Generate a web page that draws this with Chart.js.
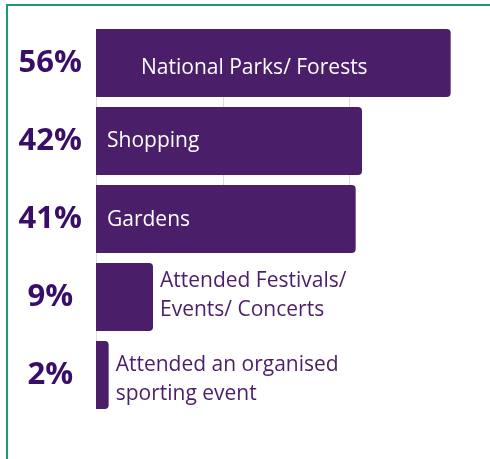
<!DOCTYPE html>
<html>
<head>
<title>Activities</title>
<script src="https://cdn.jsdelivr.net/npm/chart.js"></script>
<style>
body {
    margin:0;
    background:white;
    overflow:hidden;
}
#frame {
    position:absolute;
    left:6px;
    top:4px;
    width:520px;
    height:520px;
    border:2px solid #23996f;
    pointer-events:none;
}
canvas {
    position:absolute;
    left:0;
    top:0;
}
</style>
</head>
<body>

<canvas id="chart" width="490" height="459"></canvas>
<div id="frame"></div>

<script>
// ---------------- DATA ----------------
const activities = [
    ["National Parks/ Forests"],
    ["Shopping"],
    ["Gardens"],
    ["Attended Festivals/", "Events/ Concerts"],
    ["Attended an organised", "sporting event"]
];
const shares = [56, 42, 41, 9, 2];
const shareLabels = ["56%", "42%", "41%", "9%", "2%"];
const gridValues = [0, 20, 40];

const PURPLE = "#4a1e69";
const DARK = "#3a0e66";
const GRID = "#dcdcdc";
const FONT = "'Open Sans', sans-serif";

// ---------------- GRID ----------------
// the original only shows the 20/40 lines behind the top three bars
const partialGrid = {
    id:"partialGrid",
    beforeDatasetsDraw(chart){
        const ctx = chart.ctx;
        const xs = chart.scales.x;
        const bars = chart.getDatasetMeta(0).data;
        const top = bars[0].y - bars[0].height/2;
        ctx.save();
        ctx.strokeStyle = GRID;
        ctx.lineWidth = 1;
        gridValues.forEach(v=>{
            const last = v === 0 ? bars[bars.length-1] : bars[2];
            const bottom = last.y + last.height/2;
            const x = Math.round(xs.getPixelForValue(v)) + 0.5;
            ctx.beginPath();
            ctx.moveTo(x, top);
            ctx.lineTo(x, bottom);
            ctx.stroke();
        });
        ctx.restore();
    }
};

// ---------------- BAR TEXT ----------------
// small per-bar nudges so the text sits like the original
const nudgeX = [45, 11, 11, 7, 7];
const nudgeY = [5, 0, 1, -1, 5];

const barText = {
    id:"barText",
    afterDatasetsDraw(chart){
        const ctx = chart.ctx;
        const bars = chart.getDatasetMeta(0).data;
        ctx.save();
        ctx.textBaseline = "middle";
        ctx.textAlign = "left";
        ctx.font = "21px " + FONT;
        bars.forEach((bar,i)=>{
            const lines = activities[i];
            const inside = i < 3;
            const x = inside ? bar.base + nudgeX[i] : bar.x + nudgeX[i];
            ctx.fillStyle = inside ? "white" : PURPLE;
            const lh = 29;
            const y0 = bar.y - (lines.length-1)*lh/2 + nudgeY[i];
            lines.forEach((t,k)=> ctx.fillText(t, x, y0 + k*lh));
        });
        ctx.restore();
    }
};

// ---------------- CHART ----------------
new Chart(document.getElementById("chart"), {
    type:"bar",
    data:{
        labels:shareLabels,
        datasets:[{
            data:shares,
            backgroundColor:PURPLE,
            borderRadius:4,
            barPercentage:0.872,
            categoryPercentage:1
        }]
    },
    options:{
        indexAxis:"y",
        responsive:false,
        animation:false,
        layout:{ padding:{ top:24, bottom:45, right:14 } },
        plugins:{ legend:{ display:false }, tooltip:{ enabled:false } },
        scales:{
            x:{
                min:0,
                max:60,
                ticks:{ display:false, stepSize:20 },
                border:{ display:false },
                grid:{ display:false, drawTicks:false }
            },
            y:{
                afterFit:s => { s.width = 96; s.paddingTop = 0; s.paddingBottom = 0; },
                border:{ display:false },
                grid:{ display:false, drawTicks:false },
                ticks:{
                    crossAlign:"center",
                    padding:14,
                    color:DARK,
                    font:{ family:FONT, size:31, weight:"bold" }
                }
            }
        }
    },
    plugins:[partialGrid, barText]
});
</script>

</body>
</html>
